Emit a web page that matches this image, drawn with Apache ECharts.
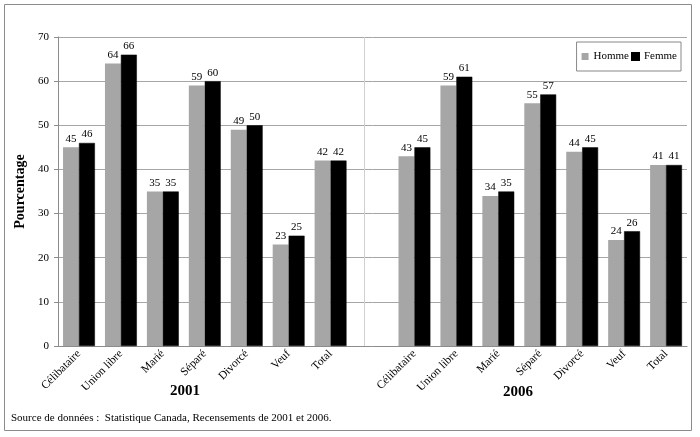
<!DOCTYPE html>
<html>
<head>
<meta charset="utf-8">
<script src="https://cdn.jsdelivr.net/npm/echarts@6/dist/echarts.min.js"></script>
<style>
  html, body { margin: 0; padding: 0; background: #fff; }
  #main { width: 700px; height: 437px; }
</style>
</head>
<body>
<div id="main"></div>
<script>
// categories: 2001 group, an empty slot, then 2006 group
var etats = ['Célibataire', 'Union libre', 'Marié', 'Séparé', 'Divorcé', 'Veuf', 'Total'];
var categories = etats.concat([' '], etats.map(function (e) { return e + '\u200b'; }));

var homme2001 = [45, 64, 35, 59, 49, 23, 42];
var femme2001 = [46, 66, 35, 60, 50, 25, 42];
var homme2006 = [43, 59, 34, 55, 44, 24, 41];
var femme2006 = [45, 61, 35, 57, 45, 26, 41];

var homme = homme2001.concat(['-'], homme2006);
var femme = femme2001.concat(['-'], femme2006);

var serif = '"Liberation Serif", "DejaVu Serif", serif';

var myChart = echarts.init(document.getElementById('main'));
myChart.setOption({
  animation: false,
  textStyle: { fontFamily: serif },
  grid: { left: 58, right: 13, top: 37, bottom: 91 },
  legend: {
    data: ['Homme', 'Femme'],
    right: 19,
    top: 42,
    padding: [9, 4, 9, 5],
    borderColor: '#888',
    borderWidth: 1,
    icon: 'rect',
    itemWidth: 7,
    itemHeight: 7,
    itemGap: 2,
    textStyle: { fontFamily: serif, fontSize: 11, color: '#000' }
  },
  xAxis: {
    type: 'category',
    data: categories,
    axisLine: { lineStyle: { color: '#8c8c8c' } },
    axisTick: { length: 4, lineStyle: { color: '#8c8c8c' } },
    axisLabel: {
      rotate: 45,
      interval: 0,
      fontFamily: serif,
      fontSize: 11.5,
      color: '#000',
      margin: 6,
      formatter: function (v) { return v.replace('\u200b', ''); }
    }
  },
  yAxis: {
    type: 'value',
    min: 0,
    max: 70,
    interval: 10,
    name: 'Pourcentage',
    nameLocation: 'middle',
    nameGap: 25,
    nameTextStyle: { fontFamily: serif, fontSize: 14, fontWeight: 'bold', color: '#000' },
    axisLine: { show: true, lineStyle: { color: '#8c8c8c' } },
    axisTick: { show: true, length: 4, lineStyle: { color: '#8c8c8c' } },
    axisLabel: { fontFamily: serif, fontSize: 11, color: '#000', margin: 9 },
    splitLine: { lineStyle: { color: '#a6a6a6' } }
  },
  series: [
    {
      name: 'Homme',
      type: 'bar',
      data: homme,
      barGap: '0%',
      barCategoryGap: '24%',
      itemStyle: { color: '#a6a6a6' },
      label: { show: true, position: 'top', distance: 3, fontFamily: serif, fontSize: 11, color: '#000' },
      markLine: {
        silent: true,
        symbol: 'none',
        label: { show: false },
        lineStyle: { color: '#d0d0d0', type: 'solid', width: 1 },
        data: [{ xAxis: ' ' }]
      }
    },
    {
      name: 'Femme',
      type: 'bar',
      data: femme,
      itemStyle: { color: '#000', borderColor: '#000', borderWidth: 0.5 },
      label: { show: true, position: 'top', distance: 3, fontFamily: serif, fontSize: 11, color: '#000' }
    }
  ],
  graphic: [
    {
      type: 'rect',
      shape: { x: 4.5, y: 4.5, width: 687, height: 426 },
      style: { fill: 'none', stroke: '#8c8c8c', lineWidth: 1 },
      silent: true
    },
    {
      type: 'text',
      left: 170,
      top: 384,
      style: { text: '2001', font: 'bold 15px ' + serif, fill: '#000' }
    },
    {
      type: 'text',
      left: 503,
      top: 385,
      style: { text: '2006', font: 'bold 15px ' + serif, fill: '#000' }
    },
    {
      type: 'text',
      left: 11,
      top: 413,
      style: { text: 'Source de données :  Statistique Canada, Recensements de 2001 et 2006.', font: '11px ' + serif, fill: '#000' }
    }
  ]
});
</script>
</body>
</html>
